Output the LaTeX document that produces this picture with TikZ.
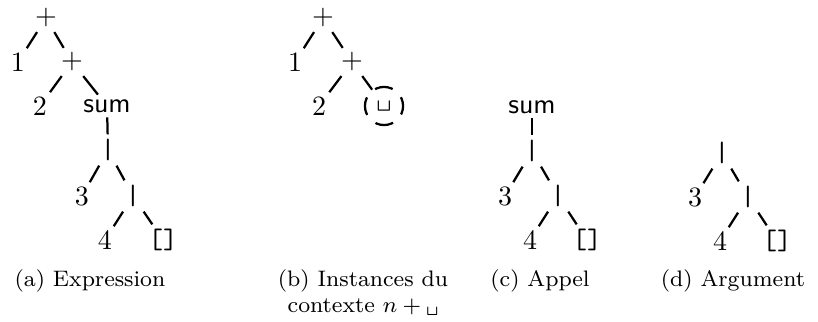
\documentclass[tikz,border=0pt]{standalone}
\usepackage{amsmath}
\usepackage{tikz}

\begin{document}
\begin{tikzpicture}[
    x=0.357pt, y=-0.357pt,
    term/.style={inner sep=1.5pt, font=\normalsize},
    hole/.style={circle, draw, thick, dash pattern=on 6.5pt off 4.2pt, dash phase=3.25pt,
                 minimum size=13.6pt, inner sep=0pt, font=\normalsize},
    branch/.style={thick},
    caption/.style={anchor=base, align=center, font=\footnotesize},
]
  \useasboundingbox (0,0) rectangle (818,322);

  % (a) expression
  \node[term] (a-plus) at (46,18) {$+$};
  \node[term] (a-one) at (18,62) {$1$};
  \node[term] (a-plus2) at (72,62) {$+$};
  \node[term] (a-two) at (40,106) {$2$};
  \node[term] (a-sum) at (107,106) {\textsf{sum}};
  \node[term] (a-cons) at (108,150) {\texttt{|}};
  \node[term] (a-three) at (82,196) {$3$};
  \node[term] (a-cons2) at (133,196) {\texttt{|}};
  \node[term] (a-four) at (105,240) {$4$};
  \node[term] (a-nil) at (163,240) {\texttt{[]}};
  \draw[branch] (a-plus) -- (a-one);
  \draw[branch] (a-plus) -- (a-plus2);
  \draw[branch] (a-plus2) -- (a-two);
  \draw[branch] (a-plus2) -- (a-sum);
  \draw[branch] (a-sum) -- (a-cons);
  \draw[branch] (a-cons) -- (a-three);
  \draw[branch] (a-cons) -- (a-cons2);
  \draw[branch] (a-cons2) -- (a-four);
  \draw[branch] (a-cons2) -- (a-nil);

  % (b) context with a hole
  \node[term] (b-plus) at (323,18) {$+$};
  \node[term] (b-one) at (295,62) {$1$};
  \node[term] (b-plus2) at (352,62) {$+$};
  \node[term] (b-two) at (319,106) {$2$};
  \node[hole] (b-hole) at (384,106) {\texttt{\textvisiblespace}};
  \draw[branch] (b-plus) -- (b-one);
  \draw[branch] (b-plus) -- (b-plus2);
  \draw[branch] (b-plus2) -- (b-two);
  \draw[branch] (b-plus2) -- (b-hole);

  % (c) call
  \node[term] (c-sum) at (532,107) {\textsf{sum}};
  \node[term] (c-cons) at (532,151) {\texttt{|}};
  \node[term] (c-three) at (505,196) {$3$};
  \node[term] (c-cons2) at (558,196) {\texttt{|}};
  \node[term] (c-four) at (530,240) {$4$};
  \node[term] (c-nil) at (587,240) {\texttt{[]}};
  \draw[branch] (c-sum) -- (c-cons);
  \draw[branch] (c-cons) -- (c-three);
  \draw[branch] (c-cons) -- (c-cons2);
  \draw[branch] (c-cons2) -- (c-four);
  \draw[branch] (c-cons2) -- (c-nil);

  % (d) argument
  \node[term] (d-cons) at (722,153) {\texttt{|}};
  \node[term] (d-three) at (695,197) {$3$};
  \node[term] (d-cons2) at (748,197) {\texttt{|}};
  \node[term] (d-four) at (720,241) {$4$};
  \node[term] (d-nil) at (777,241) {\texttt{[]}};
  \draw[branch] (d-cons) -- (d-three);
  \draw[branch] (d-cons) -- (d-cons2);
  \draw[branch] (d-cons2) -- (d-four);
  \draw[branch] (d-cons2) -- (d-nil);

  % captions
  \node[caption] (cap-a) at (90,287) {(a) Expression};
  \node[caption] (cap-b) at (363,313) {(b) Instances du\\contexte $n+\text{\texttt{\textvisiblespace}}$};
  \node[caption] (cap-c) at (540,287) {(c) Appel};
  \node[caption] (cap-d) at (733,287) {(d) Argument};
\end{tikzpicture}
\end{document}
